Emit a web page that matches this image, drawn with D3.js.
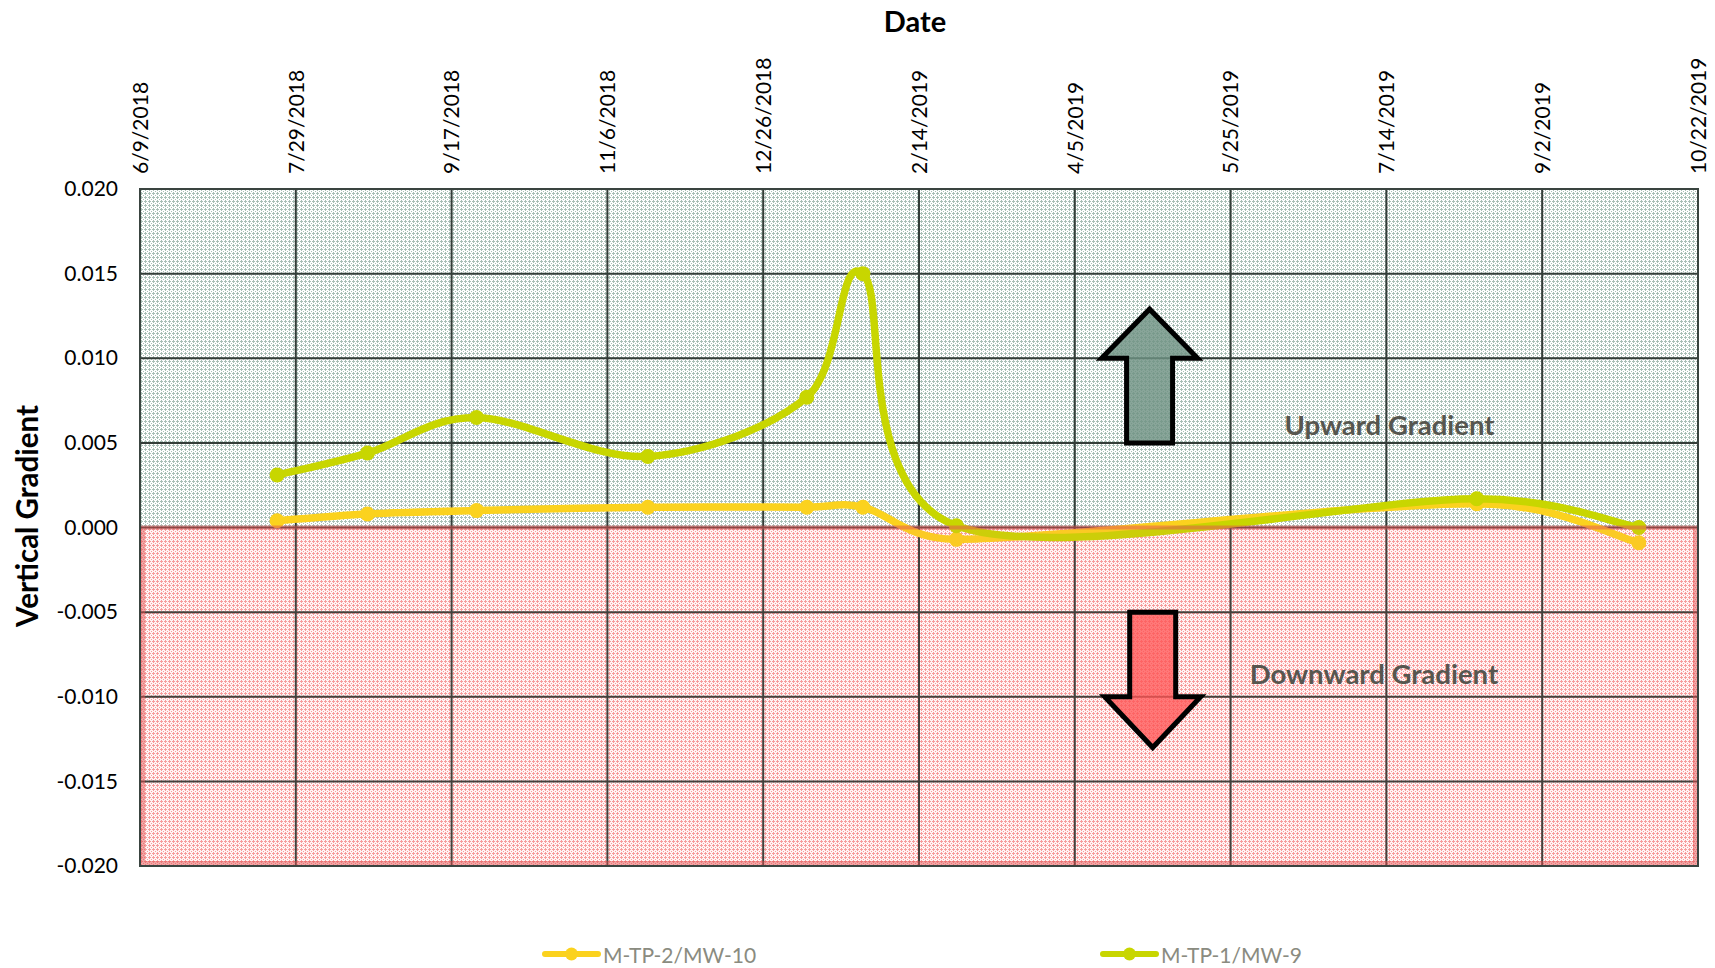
<!DOCTYPE html>
<html>
<head>
<meta charset="utf-8">
<script src="https://cdn.jsdelivr.net/npm/d3@7"></script>
<style>
  body { margin: 0; background: #ffffff; }
  svg { display: block; }
</style>
</head>
<body>
<svg id="chart" width="1715" height="968"></svg>
<script>
// Sampling dates shared by both well pairs
const sampleDates = ["2018-07-23", "2018-08-21", "2018-09-25", "2018-11-19", "2019-01-09",
                     "2019-01-27", "2019-02-26", "2019-08-12", "2019-10-03"];
// Vertical gradient, M-TP-2/MW-10
const mw10Values = [0.0004, 0.0008, 0.0010, 0.0012, 0.0012, 0.0012, -0.0007, 0.0014, -0.0009];
// Vertical gradient, M-TP-1/MW-9
const mw9Values = [0.0031, 0.0044, 0.0065, 0.0042, 0.0077, 0.0150, 0.0001, 0.0017, 0.0000];
const seriesNames = ["M-TP-2/MW-10", "M-TP-1/MW-9"];
const seriesColors = ["#fbd21e", "#c8d600"];

// Axis ticks
const dateTicks = ["6/9/2018", "7/29/2018", "9/17/2018", "11/6/2018", "12/26/2018", "2/14/2019",
                   "4/5/2019", "5/25/2019", "7/14/2019", "9/2/2019", "10/22/2019"];
const valueTicks = [0.020, 0.015, 0.010, 0.005, 0.000, -0.005, -0.010, -0.015, -0.020];

// Annotation anchors (date, value)
const upArrow = { date: "2019-04-29", tail: 0.005, base: 0.010, tip: 0.0129 };
const downArrow = { date: "2019-04-30", tail: -0.005, base: -0.010, tip: -0.0130 };
const zoneLabels = [
  { text: "Upward Gradient", date: "2019-07-15", value: 0.0061 },
  { text: "Downward Gradient", date: "2019-07-10", value: -0.0086 }
];

const parseISO = d3.utcParse("%Y-%m-%d");
const parseUS = d3.utcParse("%m/%d/%Y");
const tickDates = dateTicks.map(parseUS);
const fmtDate = d => `${d.getUTCMonth() + 1}/${d.getUTCDate()}/${d.getUTCFullYear()}`;
const locale = d3.formatLocale({ decimal: ".", thousands: ",", grouping: [3], currency: ["$", ""], minus: "-" });
const fmtValue = locale.format(".3f");

const FONT = "Lato, 'Open Sans', sans-serif";
const plot = { left: 140, right: 1698, top: 189, bottom: 866 };

const x = d3.scaleUtc()
  .domain([tickDates[0], tickDates[tickDates.length - 1]])
  .range([plot.left, plot.right]);
const y = d3.scaleLinear()
  .domain([-0.02, 0.02])
  .range([plot.bottom, plot.top]);

// Smoothed line: cubic Bezier segments whose control handles are 1/6 of the
// neighbour chord, capped at half the segment length.
function smoothCurve(context) {
  let pts;
  return {
    areaStart() {}, areaEnd() {},
    lineStart() { pts = []; },
    point(px, py) { pts.push([+px, +py]); },
    lineEnd() {
      const n = pts.length;
      if (!n) return;
      context.moveTo(pts[0][0], pts[0][1]);
      for (let i = 0; i < n - 1; i++) {
        const p0 = pts[Math.max(i - 1, 0)], p1 = pts[i], p2 = pts[i + 1], p3 = pts[Math.min(i + 2, n - 1)];
        const d12 = Math.hypot(p2[0] - p1[0], p2[1] - p1[1]);
        const d02 = Math.hypot(p2[0] - p0[0], p2[1] - p0[1]);
        const d13 = Math.hypot(p3[0] - p1[0], p3[1] - p1[1]);
        const f0 = d02 > 0 ? Math.min(1 / 6, d12 / (2 * d02)) : 0;
        const f1 = d13 > 0 ? Math.min(1 / 6, d12 / (2 * d13)) : 0;
        context.bezierCurveTo(
          p1[0] + (p2[0] - p0[0]) * f0, p1[1] + (p2[1] - p0[1]) * f0,
          p2[0] - (p3[0] - p1[0]) * f1, p2[1] - (p3[1] - p1[1]) * f1,
          p2[0], p2[1]);
      }
    }
  };
}

const svg = d3.select("#chart");
const defs = svg.append("defs");

// Dotted fills for the two gradient zones
function dotPattern(id, dot) {
  const p = defs.append("pattern")
    .attr("id", id).attr("patternUnits", "userSpaceOnUse")
    .attr("width", 4).attr("height", 4);
  p.append("rect").attr("width", 4).attr("height", 4).attr("fill", "#ffffff");
  [[1, 0], [0, 1], [1, 1], [2, 1], [1, 2], [3, 3]].forEach(([px, py]) =>
    p.append("rect").attr("x", px).attr("y", py).attr("width", 1).attr("height", 1).attr("fill", dot));
}
dotPattern("upFill", "#a9bfb6");
dotPattern("downFill", "#f7a0a0");

const y0 = y(0);
svg.append("rect")
  .attr("x", plot.left).attr("y", plot.top)
  .attr("width", plot.right - plot.left).attr("height", y0 - plot.top)
  .attr("fill", "url(#upFill)");
svg.append("rect")
  .attr("x", plot.left).attr("y", y0)
  .attr("width", plot.right - plot.left).attr("height", plot.bottom - y0)
  .attr("fill", "url(#downFill)");

// Gridlines
const grid = svg.append("g").attr("stroke", "#333d38").attr("stroke-width", 2);
grid.selectAll("line.v").data(tickDates).join("line")
  .attr("x1", d => x(d)).attr("x2", d => x(d))
  .attr("y1", plot.top).attr("y2", plot.bottom);
grid.selectAll("line.h").data(valueTicks).join("line")
  .attr("x1", plot.left).attr("x2", plot.right)
  .attr("y1", d => y(d)).attr("y2", d => y(d));
svg.append("rect")
  .attr("x", plot.left).attr("y", plot.top)
  .attr("width", plot.right - plot.left).attr("height", plot.bottom - plot.top)
  .attr("fill", "none").attr("stroke", "#3a4440").attr("stroke-width", 2);

// Series
const series = [mw10Values, mw9Values].map((vals, i) => ({
  name: seriesNames[i],
  color: seriesColors[i],
  points: sampleDates.map((d, j) => ({ date: parseISO(d), value: vals[j] }))
}));
const line = d3.line()
  .x(d => x(d.date)).y(d => y(d.value))
  .curve(smoothCurve);
const sg = svg.append("g").selectAll("g").data(series).join("g");
sg.append("path")
  .attr("d", d => line(d.points))
  .attr("fill", "none").attr("stroke", d => d.color)
  .attr("stroke-width", 7.5).attr("stroke-linejoin", "round").attr("stroke-linecap", "round");
sg.selectAll("circle").data(d => d.points.map(p => ({ ...p, color: d.color }))).join("circle")
  .attr("cx", d => x(d.date)).attr("cy", d => y(d.value)).attr("r", 7.5)
  .attr("fill", d => d.color);

// Tint and outline of the downward zone
svg.append("rect")
  .attr("x", plot.left + 3).attr("y", y0)
  .attr("width", plot.right - plot.left - 6).attr("height", plot.bottom - y0 - 3)
  .attr("fill", "rgba(255,110,110,0.08)")
  .attr("stroke", "rgba(228,80,80,0.5)").attr("stroke-width", 4);

// Block arrows
function arrowPath(cx, yTail, yBase, yTip, shaftHalf, headHalf) {
  return `M${cx - shaftHalf},${yTail} L${cx - shaftHalf},${yBase} L${cx - headHalf},${yBase} ` +
         `L${cx},${yTip} L${cx + headHalf},${yBase} L${cx + shaftHalf},${yBase} L${cx + shaftHalf},${yTail} Z`;
}
[[upArrow, "rgba(110,145,130,0.82)"], [downArrow, "rgba(255,85,85,0.78)"]].forEach(([a, fill]) => {
  const cx = x(parseISO(a.date));
  svg.append("path")
    .attr("d", arrowPath(cx, y(a.tail), y(a.base), y(a.tip), 23, 48))
    .attr("fill", fill).attr("stroke", "#000000").attr("stroke-width", 5)
    .attr("stroke-linejoin", "miter");
});

svg.append("g").selectAll("text").data(zoneLabels).join("text")
  .attr("x", d => x(parseISO(d.date))).attr("y", d => y(d.value))
  .attr("text-anchor", "middle").attr("dominant-baseline", "central")
  .attr("font-family", FONT).attr("font-weight", 700).attr("font-size", 27.5)
  .attr("fill", "#56564f")
  .text(d => d.text);

// Axes
const xAxis = svg.append("g")
  .attr("transform", `translate(0,${plot.top})`)
  .call(d3.axisTop(x).tickValues(tickDates).tickFormat(fmtDate).tickSize(0));
xAxis.select(".domain").remove();
xAxis.selectAll("text")
  .attr("transform", "rotate(-90)")
  .attr("x", 15).attr("y", 0).attr("dy", "0.35em")
  .attr("text-anchor", "start")
  .attr("font-family", FONT).attr("font-size", 21).attr("fill", "#000000");

const yAxis = svg.append("g")
  .attr("transform", `translate(${plot.left},0)`)
  .call(d3.axisLeft(y).tickValues(valueTicks).tickFormat(fmtValue).tickSize(0).tickPadding(22));
yAxis.select(".domain").remove();
yAxis.selectAll("text")
  .attr("font-family", FONT).attr("font-size", 21).attr("fill", "#000000");

// Titles
svg.append("text")
  .attr("x", 915).attr("y", 20)
  .attr("text-anchor", "middle").attr("dominant-baseline", "central")
  .attr("font-family", FONT).attr("font-weight", 700).attr("font-size", 29)
  .text("Date");
svg.append("text")
  .attr("transform", "translate(26,516) rotate(-90)")
  .attr("text-anchor", "middle").attr("dominant-baseline", "central")
  .attr("font-family", FONT).attr("font-weight", 700).attr("font-size", 29.5)
  .text("Vertical Gradient");

// Legend
const legendY = 954;
const legendX = [545, 1103];
const lg = svg.append("g").selectAll("g").data(series).join("g")
  .attr("transform", (d, i) => `translate(${legendX[i]},${legendY})`);
lg.append("line").attr("x1", 0).attr("x2", 53).attr("y1", 0).attr("y2", 0)
  .attr("stroke", d => d.color).attr("stroke-width", 6).attr("stroke-linecap", "round");
lg.append("circle").attr("cx", 26.5).attr("cy", 0).attr("r", 6.5).attr("fill", d => d.color);
lg.append("text").attr("x", 58).attr("y", 0).attr("dominant-baseline", "central")
  .attr("font-family", FONT).attr("font-size", 21).attr("fill", "#8a8b80")
  .text(d => d.name);
</script>
</body>
</html>
